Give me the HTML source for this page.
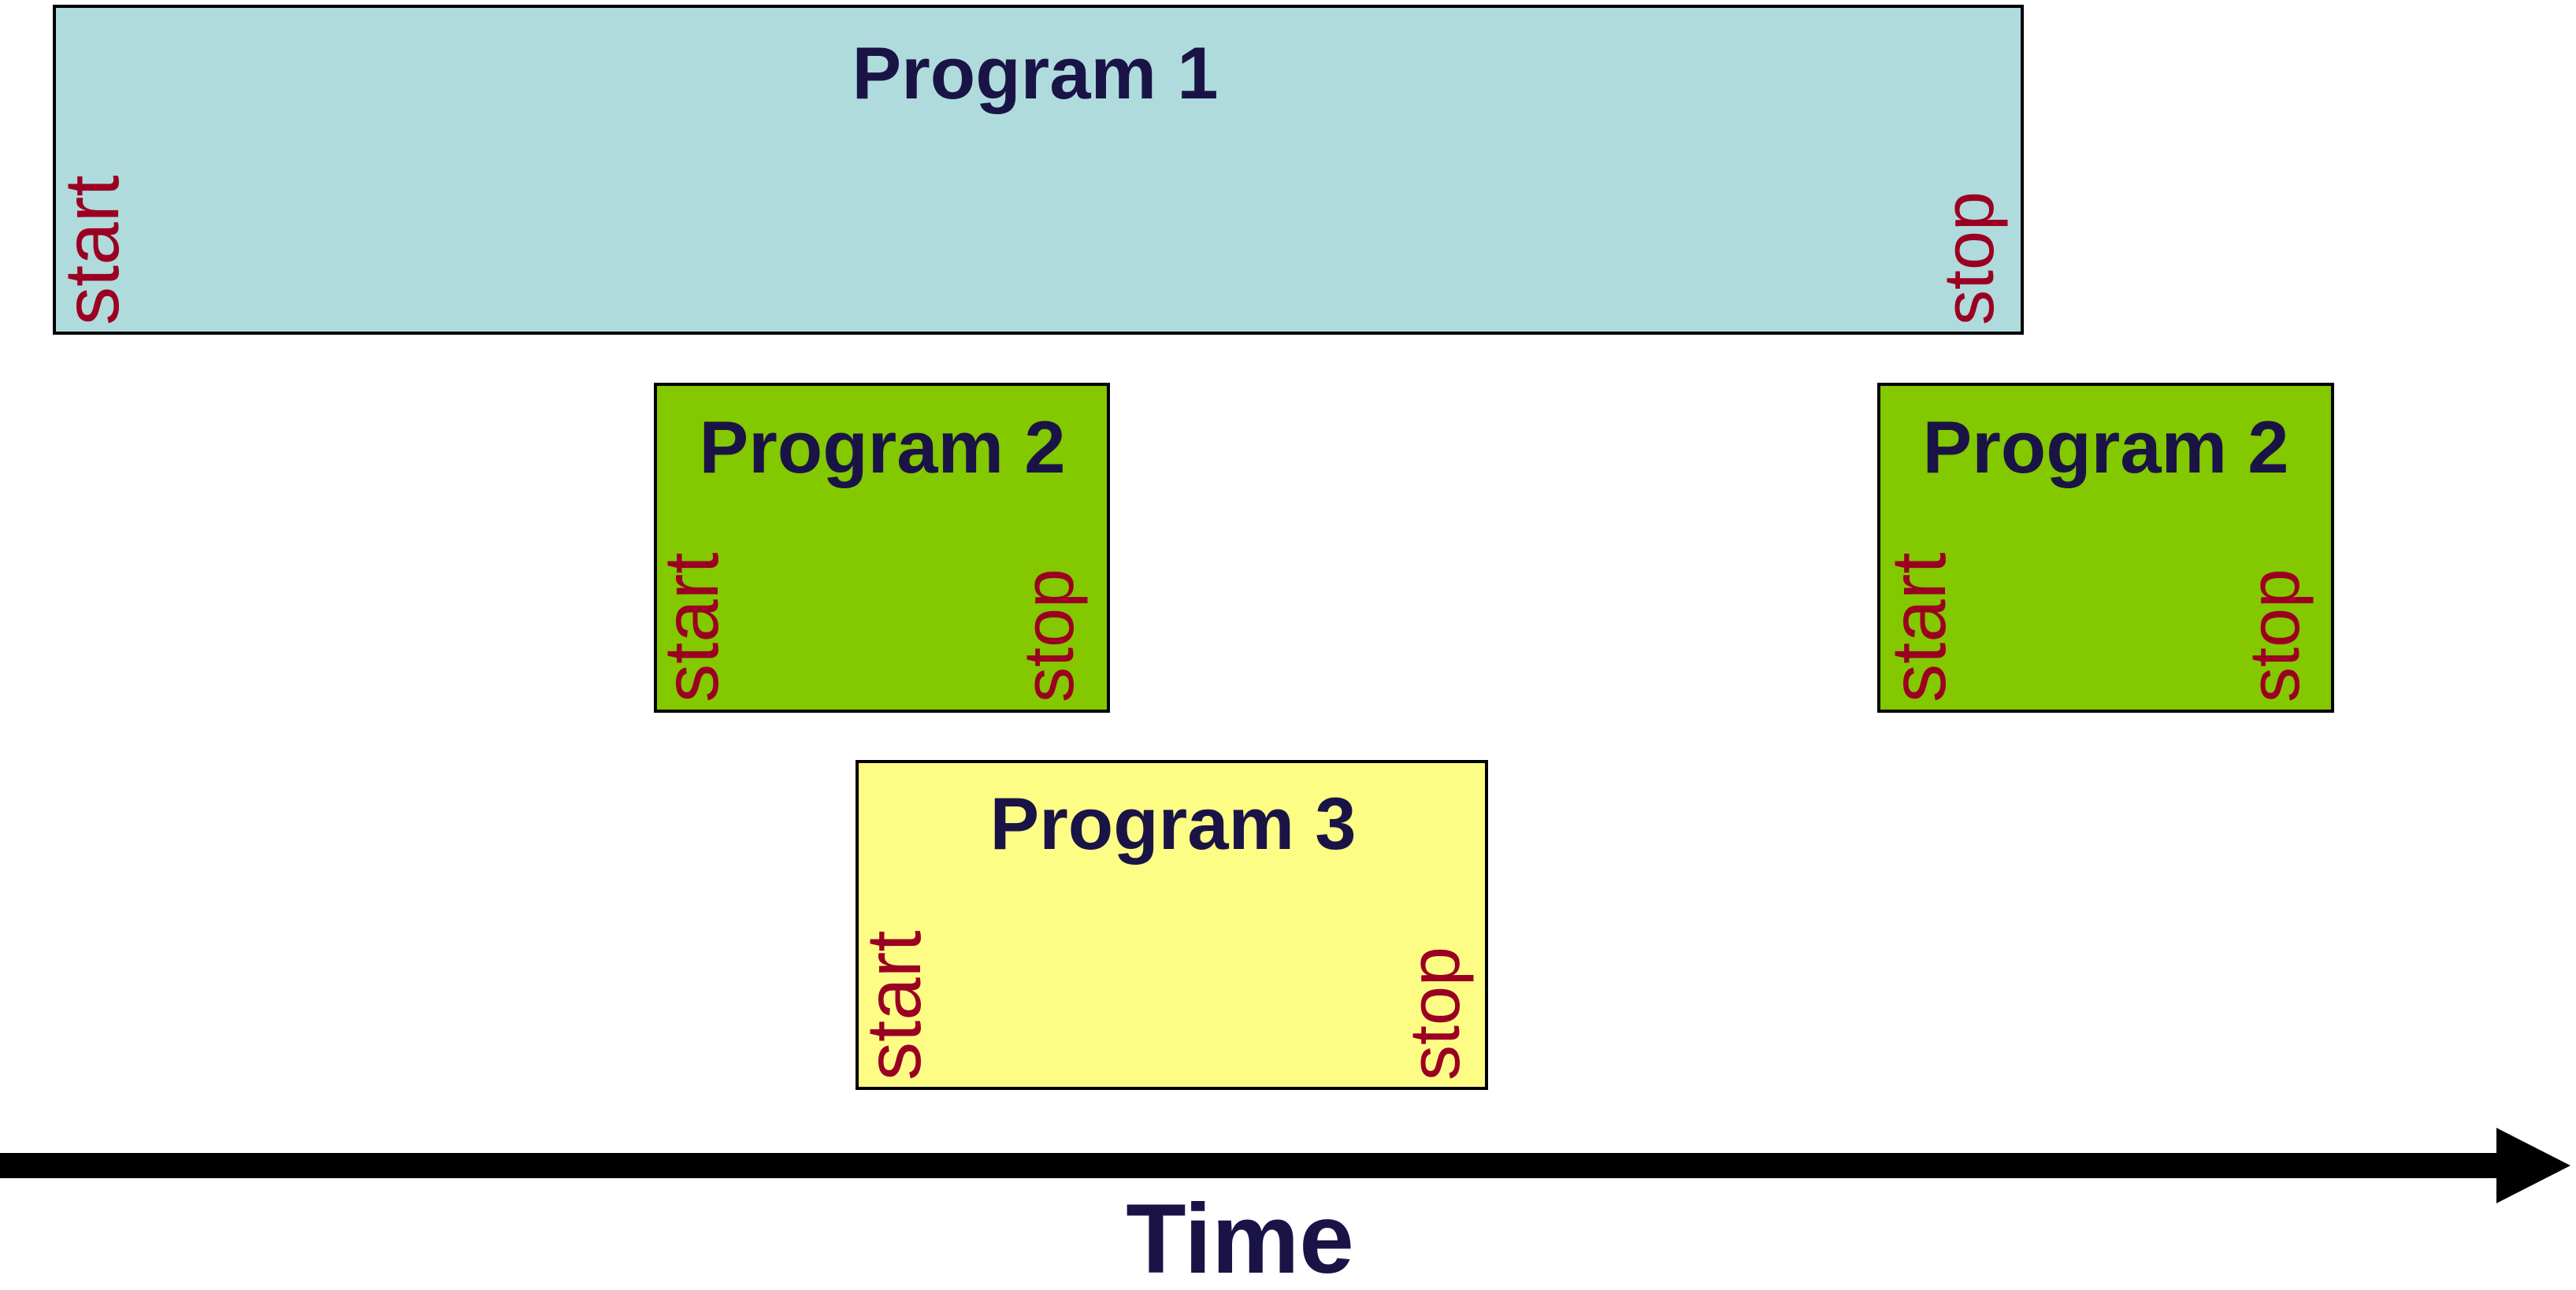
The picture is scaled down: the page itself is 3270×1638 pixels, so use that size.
<!DOCTYPE html>
<html><head><style>html,body{margin:0;padding:0;background:#fff}</style></head>
<body>
<svg width="3270" height="1633" viewBox="0 0 3270 1633" xmlns="http://www.w3.org/2000/svg" font-family="Liberation Sans, Arial, sans-serif">
<rect width="3270" height="1633" fill="#fff"/>
<rect x="69" y="8" width="2498" height="415" fill="#b0dbdd" stroke="#000" stroke-width="4"/>
<rect x="832" y="488" width="575" height="415" fill="#84c800" stroke="#000" stroke-width="4"/>
<rect x="2385" y="488" width="576" height="415" fill="#84c800" stroke="#000" stroke-width="4"/>
<rect x="1088" y="967" width="799" height="415" fill="#fdfd86" stroke="#000" stroke-width="4"/>
<g font-weight="bold" font-size="94" fill="#1a1446" text-anchor="middle">
<text x="1314" y="125">Program 1</text>
<text x="1120" y="600">Program 2</text>
<text x="2673" y="600">Program 2</text>
<text x="1489" y="1078">Program 3</text>
<text x="1574" y="1616" font-size="125">Time</text>
</g>
<g font-size="98" fill="#9b0022">
<text transform="translate(150,413) rotate(-90)">start</text>
<text transform="translate(911,892) rotate(-90)">start</text>
<text transform="translate(2469,892) rotate(-90)">start</text>
<text transform="translate(1168,1372) rotate(-90)">start</text>
</g>
<g font-size="90" fill="#9b0022">
<text transform="translate(2530,413) rotate(-90)">stop</text>
<text transform="translate(1362,892) rotate(-90)">stop</text>
<text transform="translate(2918,892) rotate(-90)">stop</text>
<text transform="translate(1852,1372) rotate(-90)">stop</text>
</g>
<rect x="0" y="1464" width="3175" height="32" fill="#000"/>
<polygon points="3169,1432 3263,1480 3169,1528" fill="#000"/>
</svg>
</body></html>
